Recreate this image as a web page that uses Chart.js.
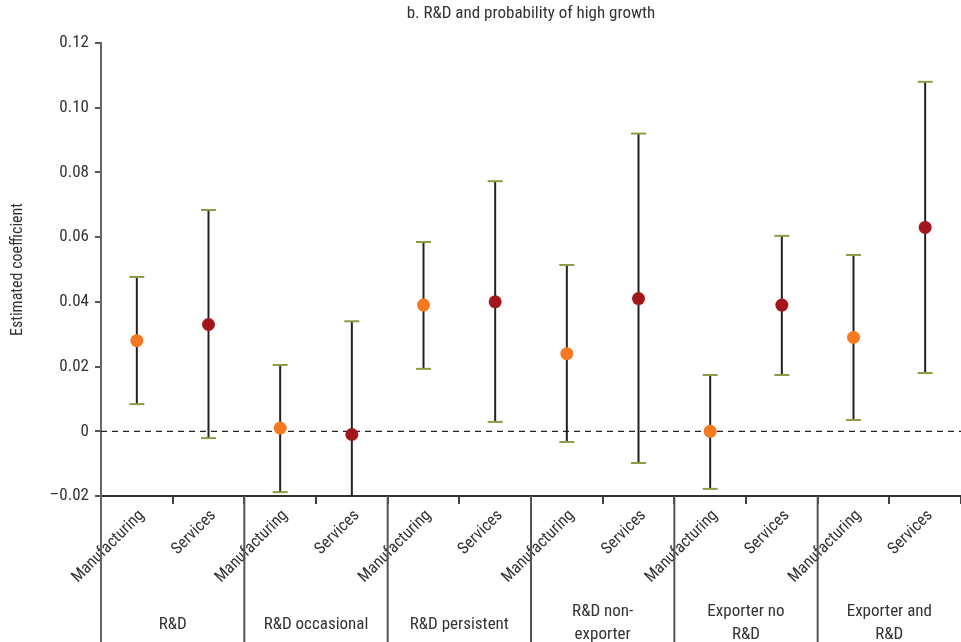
<!DOCTYPE html>
<html>
<head>
<meta charset="utf-8">
<script src="https://cdn.jsdelivr.net/npm/chart.js@4.4.1/dist/chart.umd.min.js"></script>
<style>
  html, body { margin: 0; padding: 0; background: #fff; overflow: hidden; }
  #wrap { width: 961px; height: 642px; position: relative; }
</style>
</head>
<body>
<div id="wrap"><canvas id="chart"></canvas></div>
<script>
const TITLE = "b. R&D and probability of high growth";
const sectors = ["Manufacturing", "Services", "Manufacturing", "Services", "Manufacturing", "Services",
                 "Manufacturing", "Services", "Manufacturing", "Services", "Manufacturing", "Services"];
const groups = [["R&D"], ["R&D occasional"], ["R&D persistent"], ["R&D non-", "exporter"],
                ["Exporter no", "R&D"], ["Exporter and", "R&D"]];
const estimates = [0.028, 0.033, 0.001, -0.001, 0.039, 0.040, 0.024, 0.041, 0.000, 0.039, 0.029, 0.063];
const lower = [0.0084, -0.0021, -0.0188, -0.035, 0.0193, 0.0029, -0.0033, -0.0098, -0.0178, 0.0174, 0.0035, 0.018];
const upper = [0.0477, 0.0684, 0.0205, 0.034, 0.0585, 0.0773, 0.0514, 0.092, 0.0174, 0.0604, 0.0545, 0.108];
const yTicks = { min: -0.02, max: 0.12, step: 0.02 };

const FONT = "'Liberation Sans Narrow', 'Roboto Condensed', Roboto, sans-serif";
const MFG = "#f47920";
const SRV = "#a3171c";
const CAP = "#8a9c45";

const extras = {
  id: "extras",
  beforeDatasetsDraw(chart) {
    const { ctx, chartArea: a, scales: { x, y } } = chart;
    ctx.save();
    // zero line
    ctx.strokeStyle = "#222";
    ctx.lineWidth = 1.2;
    ctx.setLineDash([6, 5]);
    const y0 = y.getPixelForValue(0);
    ctx.beginPath(); ctx.moveTo(a.left, y0); ctx.lineTo(a.right, y0); ctx.stroke();
    ctx.setLineDash([]);
    // error bars, clipped at the axes
    ctx.beginPath(); ctx.rect(a.left, a.top - 10, a.right - a.left, a.bottom - a.top + 10); ctx.clip();
    estimates.forEach((v, i) => {
      const px = x.getPixelForValue(i);
      const lo = y.getPixelForValue(lower[i]);
      const hi = y.getPixelForValue(upper[i]);
      ctx.strokeStyle = "#222";
      ctx.lineWidth = 2;
      ctx.beginPath(); ctx.moveTo(px, lo); ctx.lineTo(px, hi); ctx.stroke();
      ctx.strokeStyle = CAP;
      [lo, hi].forEach(py => {
        ctx.beginPath(); ctx.moveTo(px - 7.5, py); ctx.lineTo(px + 7.5, py); ctx.stroke();
      });
    });
    ctx.restore();
  },
  afterDraw(chart) {
    const { ctx, chartArea: a, scales: { x } } = chart;
    ctx.save();
    ctx.fillStyle = "#333";
    ctx.textAlign = "center";
    ctx.textBaseline = "middle";
    ctx.font = "17px " + FONT;
    ctx.fillText(TITLE, (a.left + a.right) / 2, 14);
    // group separators and labels
    const half = (x.getPixelForValue(1) - x.getPixelForValue(0)) / 2;
    ctx.strokeStyle = "#555";
    ctx.lineWidth = 2;
    groups.forEach((g, k) => {
      const left = x.getPixelForValue(2 * k) - half;
      if (k > 0) {
        ctx.beginPath(); ctx.moveTo(left, a.bottom); ctx.lineTo(left, chart.height); ctx.stroke();
      }
      const cx = x.getPixelForValue(2 * k) + half;
      if (g.length === 1) {
        ctx.fillText(g[0], cx, 625);
      } else {
        ctx.fillText(g[0], cx, 612);
        ctx.fillText(g[1], cx, 635);
      }
    });
    // y axis continues down past the x axis
    ctx.strokeStyle = "#666";
    ctx.beginPath(); ctx.moveTo(a.left, a.bottom); ctx.lineTo(a.left, chart.height); ctx.stroke();
    ctx.restore();
  }
};

new Chart(document.getElementById("chart"), {
  type: "line",
  data: {
    labels: sectors,
    datasets: [{
      data: estimates,
      showLine: false,
      pointRadius: 6.5,
      pointHoverRadius: 6.5,
      pointBorderWidth: 0,
      pointBackgroundColor: sectors.map(s => s === "Manufacturing" ? MFG : SRV),
      pointBorderColor: sectors.map(s => s === "Manufacturing" ? MFG : SRV)
    }]
  },
  options: {
    responsive: true,
    maintainAspectRatio: false,
    animation: false,
    layout: { autoPadding: false, padding: { top: 43, right: 0, bottom: 0, left: 0 } },
    plugins: { legend: { display: false }, tooltip: { enabled: false }, title: { display: false } },
    scales: {
      x: {
        offset: true,
        grid: { offset: true, drawOnChartArea: false, drawTicks: true, tickLength: 8, color: "#444", lineWidth: 2 },
        border: { color: "#333", width: 2 },
        ticks: { autoSkip: false, minRotation: 45, maxRotation: 45, padding: 2, labelOffset: 5, color: "#333", font: { family: FONT, size: 16.5 } },
        afterFit(s) { s.height = 146; s.paddingRight = 0; s.paddingLeft = 0; }
      },
      y: {
        min: yTicks.min,
        max: yTicks.max,
        grid: { drawOnChartArea: false, drawTicks: true, tickLength: 6, color: "#555", lineWidth: 2 },
        border: { color: "#666", width: 2 },
        ticks: {
          stepSize: yTicks.step,
          padding: 6,
          color: "#333",
          font: { family: FONT, size: 17 },
          callback(v) {
            const r = Math.round(v * 100) / 100;
            if (r === 0) return "0";
            return (r < 0 ? "\u2013" : "") + Math.abs(r).toFixed(2);
          }
        },
        title: { display: true, text: "Estimated coefficient", color: "#333", font: { family: FONT, size: 16 }, padding: { top: 8, bottom: 0 } },
        afterFit(s) { s.width = 101; s.paddingTop = 0; s.paddingBottom = 0; }
      }
    }
  },
  plugins: [extras]
});
</script>
</body>
</html>
